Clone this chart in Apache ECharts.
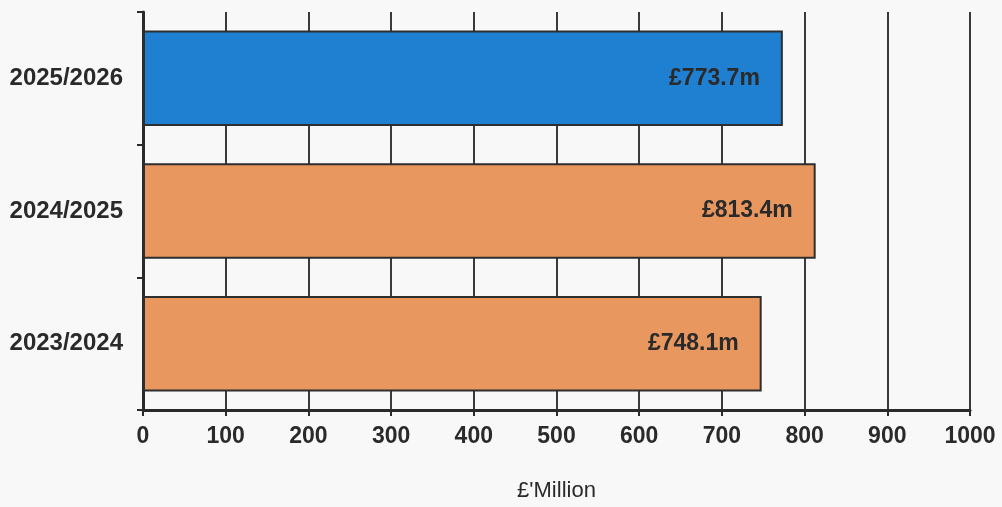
<!DOCTYPE html>
<html>
<head>
<meta charset="utf-8">
<script src="https://cdn.jsdelivr.net/npm/echarts@6/dist/echarts.min.js"></script>
<style>
  html, body { margin: 0; padding: 0; background: #f8f8f8; }
  #main { width: 1002px; height: 507px; }
</style>
</head>
<body>
<div id="main"></div>
<script>
// categories, bottom to top
const years = ['2023/2024', '2024/2025', '2025/2026']
const spend = [748.1, 813.4, 773.7]
const barColors = ['#e8975f', '#e8975f', '#1f80d2']
const axisTicks = [0, 1000, 100] // min, max, step

const chart = echarts.init(document.getElementById('main'))

const option = {
  backgroundColor: '#f8f8f8',
  textStyle: { fontFamily: 'Liberation Sans, Arial, sans-serif' },
  grid: { left: 143, right: 32, top: 12, bottom: 83, containLabel: false },
  xAxis: {
    type: 'value',
    min: axisTicks[0],
    max: axisTicks[1],
    interval: axisTicks[2],
    name: "£'Million",
    nameLocation: 'middle',
    nameGap: 70,
    nameTextStyle: { fontSize: 22, color: '#2a2a2a' },
    axisLine: { show: true, lineStyle: { color: '#2a2a2a', width: 3 } },
    axisTick: { show: true, length: 6, lineStyle: { color: '#2a2a2a', width: 2 } },
    axisLabel: {
      fontSize: 23, fontWeight: 'bold', color: '#2a2a2a', margin: 15,
      formatter: v => String(v)
    },
    splitLine: { show: true, lineStyle: { color: '#3a3a3a', width: 2 } }
  },
  yAxis: {
    type: 'category',
    data: years,
    axisLine: { show: true, lineStyle: { color: '#2a2a2a', width: 3 } },
    axisTick: { show: true, length: 6, lineStyle: { color: '#2a2a2a', width: 2 } },
    axisLabel: { fontSize: 24, fontWeight: 'bold', color: '#2a2a2a', margin: 20 },
    splitLine: { show: false }
  },
  series: [
    {
      type: 'bar',
      data: spend.map((v, i) => ({ value: v, itemStyle: { color: barColors[i] } })),
      barCategoryGap: '28%',
      itemStyle: { borderColor: '#2e2e2e', borderWidth: 2 },
      label: {
        show: true,
        position: 'insideRight',
        distance: 23,
        fontSize: 23,
        fontWeight: 'bold',
        color: '#2a2a2a',
        formatter: p => '£' + p.value.toFixed(1) + 'm'
      },
      z: 3
    }
  ]
}

chart.setOption(option)
window.addEventListener('resize', function () {
  chart.resize()
})
</script>
</body>
</html>
